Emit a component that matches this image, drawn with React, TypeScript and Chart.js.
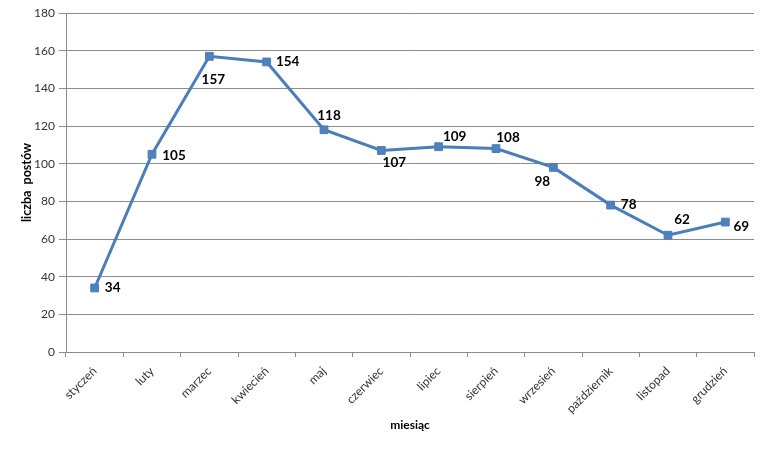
import React, { useEffect, useRef } from "react";
import { Chart, registerables } from "chart.js";

Chart.register(...registerables);

const months = [
  "styczeń", "luty", "marzec", "kwiecień", "maj", "czerwiec",
  "lipiec", "sierpień", "wrzesień", "październik", "listopad", "grudzień",
];
const posts = [34, 105, 157, 154, 118, 107, 109, 108, 98, 78, 62, 69];
const yTicks = [0, 20, 40, 60, 80, 100, 120, 140, 160, 180];

// label offsets (px) relative to each point
const labelDx = [18, 22, 4, 21, 5, 13, 16, 12, -11, 18, 14, 16];
const labelDy = [0, 1, 23, 0, -14, 12, -10, -11, 14, 0, -16, 5];

const FONT = "Lato, 'Open Sans', 'DejaVu Sans', sans-serif";

const dataLabels = {
  id: "dataLabels",
  afterDatasetsDraw(chart: any) {
    const ctx = chart.ctx;
    const meta = chart.getDatasetMeta(0);
    ctx.save();
    ctx.font = `bold 13.5px ${FONT}`;
    ctx.fillStyle = "#000";
    ctx.textAlign = "center";
    ctx.textBaseline = "middle";
    meta.data.forEach((pt: any, i: number) => {
      ctx.fillText(String(posts[i]), pt.x + labelDx[i], pt.y + labelDy[i]);
    });
    ctx.restore();
  },
};

export default function App() {
  const ref = useRef<HTMLCanvasElement>(null);
  useEffect(() => {
    if (!ref.current) return;
    const chart = new Chart(ref.current, {
      type: "line",
      data: {
        labels: months,
        datasets: [
          {
            data: posts,
            borderColor: "#4A7EBB",
            borderWidth: 3,
            backgroundColor: "#4F81BD",
            pointStyle: "rect",
            pointRadius: 5.5,
            pointBackgroundColor: "#4F81BD",
            pointBorderColor: "#4A7EBB",
            pointBorderWidth: 1,
            tension: 0,
          },
        ],
      },
      options: {
        responsive: false,
        animation: false,
        layout: { padding: { left: 0, top: 13, right: 14, bottom: 0 } },
        plugins: { legend: { display: false }, tooltip: { enabled: false } },
        scales: {
          x: {
            type: "category",
            offset: true,
            grid: {
              offset: true,
              drawOnChartArea: false,
              drawTicks: true,
              tickLength: 5,
              color: "#8c8c8c",
            },
            border: { color: "#8c8c8c", width: 1 },
            ticks: {
              minRotation: 45,
              maxRotation: 45,
              autoSkip: false,
              color: "#333",
              padding: 7,
              font: { family: FONT, size: 12 },
            },
            title: {
              display: true,
              text: "miesiąc",
              color: "#000",
              font: { family: FONT, size: 12, weight: "bold" },
              padding: { top: 0, bottom: 27 },
            },
            afterFit(scale: any) {
              scale.height = 107;
            },
          },
          y: {
            min: 0,
            max: 180,
            afterBuildTicks(scale: any) {
              scale.ticks = yTicks.map((v) => ({ value: v }));
            },
            grid: {
              color: "#8c8c8c",
              tickLength: 7,
            },
            border: { color: "#8c8c8c", width: 1 },
            ticks: {
              color: "#333",
              padding: 4,
              font: { family: FONT, size: 12 },
            },
            title: {
              display: true,
              text: "liczba  postów",
              color: "#000",
              font: { family: FONT, size: 12.5, weight: "bold" },
              padding: { top: 19, bottom: 0 },
            },
            afterFit(scale: any) {
              scale.width = 66;
            },
          },
        },
      },
      plugins: [dataLabels],
    });
    return () => chart.destroy();
  }, []);
  return (
    <div style={{ position: "absolute", left: 0, top: 0, width: 768, height: 459, background: "#fff" }}>
      <canvas ref={ref} width={768} height={459} />
    </div>
  );
}
